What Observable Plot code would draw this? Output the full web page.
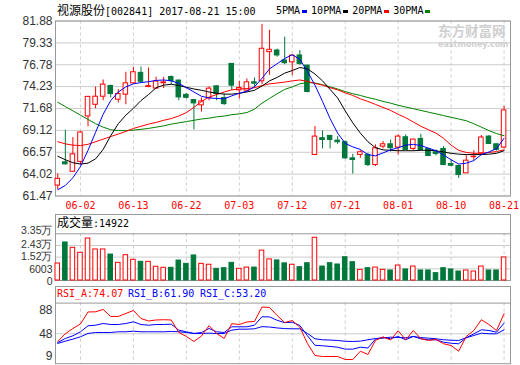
<!DOCTYPE html>
<html>
<head>
<meta charset="utf-8">
<script src="https://cdn.jsdelivr.net/npm/d3@7"></script>
<script src="https://cdn.jsdelivr.net/npm/@observablehq/plot@0.6"></script>
<style>
  html, body { margin: 0; padding: 0; background: #fff; }
  #chart { position: relative; width: 520px; height: 365px; overflow: hidden; background: #fff; }
  .abs { position: absolute; white-space: nowrap; }
  .mono { font-family: "DejaVu Sans Mono", monospace; font-size: 10px; line-height: 12px; color: #000; }
  .cjk { font-family: "Noto Sans CJK SC", sans-serif; font-size: 12px; line-height: 12px; }
  .hbox { position: absolute; border: 1px solid #999; border-bottom: none; box-sizing: border-box; }
  .sw { display: inline-block; width: 5px; height: 3px; margin: 0 4px 0 2px; vertical-align: middle; }
</style>
</head>
<body>
<div id="chart">
  <div class="abs mono" style="left:57px;top:4px;"><span class="cjk">视源股份</span>[002841] 2017-08-21 15:00</div>
  <div class="abs mono" style="left:276px;top:5px;">5PMA<span class="sw" style="background:#0000ff"></span>10PMA<span class="sw" style="background:#000"></span>20PMA<span class="sw" style="background:#ff0000"></span>30PMA<span class="sw" style="background:#008000"></span></div>
  <div class="abs" style="left:438px;top:23px;font-family:'Noto Sans CJK SC',sans-serif;font-weight:bold;font-size:13.5px;line-height:14px;color:#cfcfcf;">东方财富网</div>
  <div class="abs" style="left:438px;top:40.5px;font-family:'DejaVu Sans',sans-serif;font-weight:bold;font-size:8px;line-height:8px;color:#cfcfcf;">eastmoney.com</div>
  <div class="hbox" style="left:55px;top:214px;width:456px;height:20px;"></div>
  <div class="abs mono" style="left:57px;top:216px;"><span class="cjk">成交量</span>:14922</div>
  <div class="hbox" style="left:55px;top:286px;width:456px;height:17px;"></div>
  <div class="abs mono" style="left:57px;top:288px;color:#ff0000;">RSI_A:74.07</div>
  <div class="abs mono" style="left:128px;top:288px;color:#0000ff;">RSI_B:61.90</div>
  <div class="abs mono" style="left:200px;top:288px;color:#0000ff;">RSI_C:53.20</div>
</div>
<script>
// ---------- data ----------
const dates = ["05-26","05-31","06-01","06-02","06-05","06-06","06-07","06-08","06-09","06-12",
  "06-13","06-14","06-15","06-16","06-19","06-20","06-21","06-22","06-23","06-26",
  "06-27","06-28","06-29","06-30","07-03","07-04","07-05","07-06","07-07","07-10",
  "07-11","07-12","07-13","07-14","07-17","07-18","07-19","07-20","07-21","07-24",
  "07-25","07-26","07-27","07-28","07-31","08-01","08-02","08-03","08-04","08-07",
  "08-08","08-09","08-10","08-11","08-14","08-15","08-16","08-17","08-18","08-21"];
const tickDates = ["06-02","06-13","06-22","07-03","07-12","07-21","08-01","08-10","08-21"];

const open = [62.69,65.40,64.30,65.45,70.75,72.11,73.05,74.30,72.70,73.29,
  74.61,75.83,74.18,74.00,74.62,75.35,74.93,73.27,72.66,72.04,
  72.90,74.26,72.90,76.88,73.79,73.76,74.73,74.85,78.25,78.44,
  77.27,77.06,77.86,76.68,66.26,68.21,68.48,67.93,67.74,65.86,
  66.26,66.26,65.08,67.23,67.50,67.12,68.32,66.96,68.13,66.96,
  66.57,66.96,65.20,64.97,64.11,66.00,66.45,68.40,67.50,67.12];
const high = [64.06,69.13,68.29,69.00,73.09,74.18,75.00,74.40,73.87,75.90,
  76.49,76.52,76.40,75.32,75.30,75.47,75.00,73.40,72.70,72.90,
  74.20,74.30,73.36,76.90,74.85,75.12,75.24,81.49,80.79,78.60,
  80.00,77.90,78.44,76.70,69.58,69.07,68.50,68.40,67.90,66.33,
  66.76,66.45,67.43,67.82,68.00,68.60,68.60,68.10,68.68,67.00,
  66.84,67.23,65.67,65.08,66.18,66.76,68.52,68.52,67.50,71.92];
const low = [62.22,65.08,64.22,65.08,69.55,71.65,72.58,72.90,72.31,72.11,
  74.50,74.66,74.10,73.90,74.00,74.45,72.58,72.78,69.18,71.26,
  72.58,72.58,72.04,73.76,72.78,73.60,74.07,74.45,75.55,77.66,
  76.80,75.50,76.70,73.50,66.20,66.96,66.96,67.50,65.75,64.03,
  65.86,64.90,64.90,66.96,66.60,66.26,66.72,66.70,66.72,66.06,
  66.14,65.00,64.90,63.52,64.10,65.59,66.18,67.50,66.72,66.96];
const close = [63.47,65.16,66.33,68.88,73.03,73.05,74.46,73.36,73.36,74.61,
  75.90,74.80,74.28,74.82,74.72,74.87,72.97,72.92,72.27,72.50,
  73.99,73.36,72.19,74.34,74.07,74.73,74.57,78.64,78.52,77.86,
  76.96,77.84,76.88,73.60,68.40,68.00,68.01,67.74,65.86,65.67,
  66.57,65.08,67.04,67.50,67.04,68.40,66.84,68.05,66.84,66.14,
  66.37,65.08,65.00,63.91,65.59,66.05,68.29,67.54,66.84,71.45];

const ma5 = [62.2,62.7,63.6,64.9,66.8,68.9,71.0,72.6,73.6,74.2,
  74.55,74.7,74.8,74.95,75.0,74.9,74.6,74.1,73.6,73.1,
  72.9,72.85,72.8,73.15,73.45,73.7,74.2,75.2,76.3,76.9,
  77.5,77.95,77.4,76.0,74.4,72.5,70.5,68.8,67.6,67.2,
  66.9,66.3,66.15,66.5,66.85,67.1,67.4,67.5,67.35,67.05,
  66.75,66.25,65.7,65.2,65.3,65.6,66.3,66.6,67.0,68.2];
const ma10 = [66.1,65.7,65.35,65.2,65.3,65.8,66.9,68.5,69.9,70.9,
  71.7,72.6,73.3,74.1,74.4,74.5,74.35,74.15,73.95,73.8,
  73.6,73.45,73.35,73.35,73.45,73.6,73.8,74.3,74.9,75.3,
  75.8,76.1,76.45,76.3,75.7,74.9,73.9,72.9,71.4,70.0,
  68.8,67.8,67.1,66.85,66.8,66.75,66.75,66.75,66.8,66.8,
  66.75,66.6,66.45,66.35,66.3,66.3,66.3,66.35,66.45,66.75];
const ma20 = [67.8,67.55,67.4,67.35,67.5,67.8,68.1,68.4,68.7,69.0,
  69.35,69.6,69.85,70.05,70.3,70.5,70.8,71.2,71.8,72.5,
  73.0,73.3,73.6,73.85,73.95,74.0,74.1,74.35,74.55,74.65,
  74.75,74.9,75.0,74.85,74.6,74.4,74.1,73.85,73.5,73.2,
  72.8,72.5,72.15,71.8,71.45,71.0,70.6,70.1,69.6,69.2,
  68.8,68.2,67.4,66.8,66.55,66.45,66.45,66.55,66.65,66.85];
const ma30 = [72.4,71.9,71.4,70.9,70.4,69.9,69.5,69.2,69.1,69.1,
  69.15,69.25,69.35,69.5,69.65,69.85,70.0,70.15,70.3,70.45,
  70.55,70.7,70.8,70.95,71.05,71.2,71.6,72.3,72.85,73.4,
  73.9,74.2,74.55,74.7,74.65,74.45,74.2,73.95,73.65,73.4,
  73.2,72.95,72.75,72.5,72.3,72.05,71.85,71.65,71.45,71.25,
  71.05,70.85,70.65,70.45,70.25,69.9,69.5,69.1,68.75,68.5];

const volume = [10200,26700,22500,18600,29800,21200,21200,17200,10700,16700,
  13100,11500,11500,7600,6800,6800,12500,9900,16500,9900,
  9200,6000,6500,10700,6000,7000,7000,20300,13400,12600,
  10300,9200,7300,10400,30400,7800,10400,9400,15100,11200,
  5200,6500,7000,5200,4700,8600,5500,7800,4700,4700,
  2600,6500,5500,3900,4700,3900,7800,4700,4700,14922];

const rsiA = [38.0,48.1,54.9,60.8,76.4,76.7,79.7,70.6,70.6,74.5,
  78.4,67.9,64.7,66.0,66.3,66.0,49.7,44.5,38.0,45.1,
  58.5,48.4,41.9,61.2,60.1,63.4,64.0,82.9,82.3,71.9,
  62.7,65.3,56.6,35.4,19.7,18.4,18.4,18.4,14.5,14.5,
  25.3,21.0,39.3,43.8,39.9,51.9,40.2,52.3,41.5,39.3,
  40.6,35.0,32.7,25.3,44.5,52.3,66.3,60.1,52.3,74.07];
const rsiB = [36.7,41.9,45.4,50.6,58.4,59.2,61.4,60.1,60.1,61.4,
  63.6,60.1,59.2,60.1,60.1,60.5,52.7,50.6,48.4,49.7,
  54.9,50.6,49.7,57.1,57.1,57.1,59.2,70.2,70.0,65.6,
  62.5,63.1,58.8,45.5,33.0,32.4,31.5,30.5,28.0,28.0,
  30.5,29.5,41.0,43.6,41.5,44.5,40.2,44.5,41.5,40.2,
  40.2,37.0,35.7,35.0,42.8,48.0,53.2,52.3,50.1,61.90];
const rsiC = [35.4,38.4,41.0,44.1,48.4,49.7,49.7,49.7,50.6,50.6,
  51.4,50.6,50.6,50.6,50.6,51.0,50.6,49.7,48.4,48.4,
  48.8,48.4,48.4,52.7,54.0,54.0,54.5,57.3,56.8,55.6,
  54.8,54.5,54.5,48.5,41.5,40.2,39.8,39.3,38.2,38.0,
  38.4,40.2,41.8,42.3,43.6,43.2,42.8,44.5,43.0,42.3,
  41.5,40.2,39.6,39.3,42.8,45.8,48.8,48.0,48.0,53.20];

const priceTicks = [81.88,79.33,76.78,74.23,71.68,69.12,66.57,64.02,61.47];
const volTicks = [33500,24300,15200,6003];
const volTickLabels = ["3.35万","2.43万","1.52万","6003"];
const volZeroLabel = "0";
const rsiTicks = [88,48,9];

// ---------- styling ----------
const RED = "#ff0000", GREEN = "#00773b", BLUE = "#0000ff", MA_GREEN = "#008000";
const GRID = "#cccccc", FRAME = "#999999", AXIS_TXT = "#333333";
const BW = 0.3;
const xScale = {type: "linear", domain: [-0.3, dates.length - 0.15], axis: null};
const common = {
  width: 520, marginLeft: 55, marginRight: 10,
  color: {type: "identity"},
  style: {background: "transparent", overflow: "visible", fontFamily: "'Liberation Sans', Arial, sans-serif", fontSize: "12px"}
};
const idx = dates.map((d, i) => i);
const tickIdx = tickDates.map(d => dates.indexOf(d));
const up = i => close[i] >= open[i];
const candles = idx.map(i => ({i, o: open[i], h: high[i], l: low[i], c: close[i],
  col: up(i) ? RED : GREEN, fillc: up(i) ? "#ffffff" : GREEN}));
const vols = idx.map(i => ({i, v: volume[i], col: up(i) ? RED : GREEN, fillc: up(i) ? "#ffffff" : GREEN}));
const volStep = (volTicks[0] - volTicks[volTicks.length - 1]) / (volTicks.length - 1);
const volMin = volTicks[volTicks.length - 1] - volStep;
const ax = {tickSize: 0, tickPadding: 3, fill: AXIS_TXT, label: null};
const vax = {...ax, fontSize: 10.5, tickFormat: d => volTickLabels[volTicks.indexOf(d)]};
const ln = {strokeWidth: 1};

function place(svg, top) {
  svg.style.position = "absolute";
  svg.style.left = "0px";
  svg.style.top = top + "px";
  document.getElementById("chart").appendChild(svg);
}

// ---------- main price panel ----------
const main = Plot.plot({
  ...common, height: 215, marginTop: 20.5, marginBottom: 19.5,
  x: xScale,
  y: {domain: [priceTicks[priceTicks.length - 1], priceTicks[0]], axis: null},
  marks: [
    Plot.gridY(priceTicks, {stroke: GRID, strokeOpacity: 1}),
    Plot.gridX(tickIdx, {stroke: GRID, strokeOpacity: 1, strokeDasharray: "3,3"}),
    Plot.frame({stroke: FRAME}),
    Plot.axisY(priceTicks, {...ax, tickFormat: d => d.toFixed(2)}),
    Plot.axisX(tickIdx, {tickSize: 0, tickPadding: 6, label: null, tickFormat: i => dates[i], fill: RED,
      fontFamily: "'DejaVu Sans Mono', monospace", fontSize: 10}),
    Plot.ruleX(candles, {x: "i", y1: "l", y2: "h", stroke: "col", strokeWidth: 1}),
    Plot.rect(candles, {x1: d => d.i - BW, x2: d => d.i + BW, y1: "o", y2: "c", fill: "fillc", stroke: "col", strokeWidth: 1}),
    Plot.line(idx, {x: i => i, y: i => ma30[i], stroke: MA_GREEN, ...ln}),
    Plot.line(idx, {x: i => i, y: i => ma20[i], stroke: RED, ...ln}),
    Plot.line(idx, {x: i => i, y: i => ma10[i], stroke: "#000000", ...ln}),
    Plot.line(idx, {x: i => i, y: i => ma5[i], stroke: BLUE, ...ln})
  ]
});
place(main, 0);

// ---------- volume panel ----------
const vol = Plot.plot({
  ...common, height: 68, marginTop: 19.3, marginBottom: 2,
  x: xScale,
  y: {domain: [volMin, volTicks[0]], axis: null},
  marks: [
    Plot.gridY(volTicks.slice(1), {stroke: GRID, strokeOpacity: 1}),
    Plot.gridX(tickIdx, {stroke: GRID, strokeOpacity: 1, strokeDasharray: "3,3"}),
    Plot.frame({stroke: FRAME}),
    Plot.rect(vols, {x1: d => d.i - BW, x2: d => d.i + BW, y1: () => volMin, y2: "v", fill: "fillc", stroke: "col", strokeWidth: 1}),
    Plot.axisY([volTicks[0]], {...vax, dy: -3}),
    Plot.axisY([volTicks[1]], {...vax, dy: -1}),
    Plot.axisY([volTicks[2]], {...vax}),
    Plot.axisY([volTicks[3]], {...vax, dy: 0.5}),
    Plot.axisY([volMin], {...ax, fontSize: 10.5, dy: 1, tickFormat: () => volZeroLabel})
  ]
});
place(vol, 214);

// ---------- RSI panel ----------
const rsi = Plot.plot({
  ...common, height: 79, marginTop: 16.6, marginBottom: 1.8,
  x: xScale,
  y: {domain: [rsiTicks[2], rsiTicks[0]], axis: null},
  marks: [
    Plot.gridY([rsiTicks[1]], {stroke: GRID, strokeOpacity: 1}),
    Plot.gridX(tickIdx, {stroke: GRID, strokeOpacity: 1, strokeDasharray: "3,3"}),
    Plot.frame({stroke: FRAME}),
    Plot.line(idx, {x: i => i, y: i => rsiC[i], stroke: BLUE, ...ln}),
    Plot.line(idx, {x: i => i, y: i => rsiB[i], stroke: BLUE, ...ln}),
    Plot.line(idx, {x: i => i, y: i => rsiA[i], stroke: RED, ...ln}),
    Plot.axisY([rsiTicks[0]], {...ax, dy: 7.5}),
    Plot.axisY([rsiTicks[1]], {...ax}),
    Plot.axisY([rsiTicks[2]], {...ax, dy: -8})
  ]
});
place(rsi, 286);
</script>
</body>
</html>
